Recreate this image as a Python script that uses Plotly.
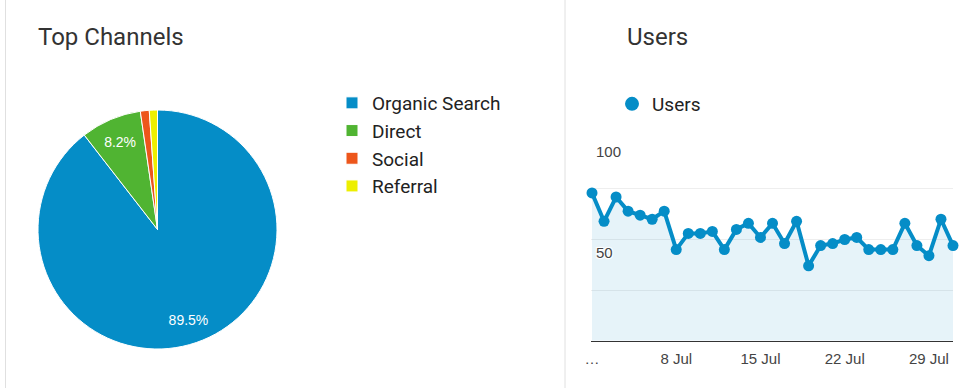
import plotly.graph_objects as go
import pandas as pd

# ---- data ----
channels = ["Organic Search", "Direct", "Social", "Referral"]
channel_share = [89.5, 8.2, 1.2, 1.1]
channel_colors = ["#058DC7", "#50B432", "#ED561B", "#EDEF00"]

dates = list(pd.date_range("2019-07-01", "2019-07-31").strftime("%Y-%m-%d"))
users = [73, 59, 71, 64, 62, 60, 64, 45, 53, 53, 54, 45, 55, 58, 51, 58,
         48, 59, 37, 47, 48, 50, 51, 45, 45, 45, 58, 47, 42, 60, 47]
x_tick_vals = ["2019-07-01", "2019-07-08", "2019-07-15", "2019-07-22", "2019-07-29"]
x_tick_text = ["…", "8 Jul", "15 Jul", "22 Jul", "29 Jul"]
y_tick_vals = [0, 25, 50, 75, 100]
y_tick_text = ["", "", "50", "", "100"]

W, H = 977, 388
BLUE = "#058DC7"
pie_domain = dict(x=[38 / W, 277 / W], y=[1 - 349 / H, 1 - 110 / H])

fig = go.Figure()

# coloured pie (no text)
fig.add_trace(go.Pie(
    labels=channels, values=channel_share, sort=False,
    direction="clockwise", rotation=0,
    marker=dict(colors=channel_colors, line=dict(color="white", width=1)),
    textinfo="none", domain=pie_domain,
    legend="legend", hoverinfo="label+percent",
))
# transparent ring on top, only to place the percentage labels further out
fig.add_trace(go.Pie(
    labels=channels, values=channel_share, sort=False,
    direction="clockwise", rotation=0, hole=0.6,
    marker=dict(colors=["rgba(0,0,0,0)"] * 4, line=dict(width=0)),
    textinfo="percent", textposition=["inside", "inside", "none", "none"],
    insidetextorientation="horizontal",
    textfont=dict(family="Liberation Sans, Arial", size=14, color="white"),
    domain=pie_domain, showlegend=False, hoverinfo="skip",
))

fig.add_trace(go.Scatter(
    x=dates, y=users, mode="lines+markers", name="Users",
    line=dict(color=BLUE, width=4), marker=dict(color=BLUE, size=11),
    fill="tozeroy", fillcolor="rgba(5,141,199,0.1)",
    cliponaxis=False, showlegend=False,
))
fig.add_trace(go.Scatter(
    x=[None], y=[None], mode="markers", name="Users",
    marker=dict(color=BLUE, size=14), legend="legend2",
))

tick_font = dict(family="Liberation Sans, Arial", size=15, color="#444")

fig.update_layout(
    width=W, height=H, margin=dict(l=0, r=0, t=0, b=0, autoexpand=False),
    autosize=False,
    paper_bgcolor="white", plot_bgcolor="white",
    showlegend=True,
    legend=dict(x=332 / W, y=1 - 84 / H, xanchor="left", yanchor="top",
                font=dict(family="Roboto", size=19, color="#222"),
                bgcolor="rgba(0,0,0,0)"),
    legend2=dict(x=612 / W, y=1 - 85 / H, xanchor="left", yanchor="top",
                 font=dict(family="Roboto", size=19, color="#222"),
                 bgcolor="rgba(0,0,0,0)"),
    xaxis=dict(domain=[591 / W, 953 / W], type="date",
               range=["2019-06-30 22:00", dates[-1]],
               tickvals=x_tick_vals, ticktext=x_tick_text,
               showgrid=False, zeroline=False, showline=True,
               linecolor="#333", linewidth=1, ticks="",
               ticklabelstandoff=4, ticklabeloverflow="allow",
               tickfont=tick_font, fixedrange=True),
    yaxis=dict(domain=[1 - 340.7 / H, 1 - 138.3 / H], range=[0, 100],
               tickvals=y_tick_vals, ticktext=y_tick_text,
               showgrid=True, gridcolor="#eeeeee", gridwidth=1,
               zeroline=False, showline=False, ticks="",
               ticklabelposition="inside bottom", ticklabelshift=3,
               ticklabelstandoff=2, ticklabeloverflow="allow",
               tickfont=dict(family="Liberation Sans, Arial", size=15, color="#444",
                             shadow="1px 1px 1px #fff, -1px -1px 1px #fff, 1px -1px 1px #fff, -1px 1px 1px #fff"),
               fixedrange=True),
    annotations=[
        dict(text="Top Channels", x=36 / W, y=1 - 37 / H, xref="paper", yref="paper",
             xanchor="left", yanchor="middle", showarrow=False,
             font=dict(family="Roboto", size=24, color="#333")),
        dict(text="Users", x=625 / W, y=1 - 37 / H, xref="paper", yref="paper",
             xanchor="left", yanchor="middle", showarrow=False,
             font=dict(family="Roboto", size=24, color="#333")),
    ],
    shapes=[
        dict(type="line", xref="paper", yref="paper", x0=5.5 / W, x1=5.5 / W, y0=0, y1=1,
             line=dict(color="#e0e0e0", width=1)),
        dict(type="line", xref="paper", yref="paper", x0=565 / W, x1=565 / W, y0=0, y1=1,
             line=dict(color="#e0e0e0", width=1)),
    ],
)

fig.write_html(
    "out.html",
    config={"responsive": False, "displayModeBar": False},
    post_script="document.body.style.margin='0';document.body.style.overflow='hidden';",
)
